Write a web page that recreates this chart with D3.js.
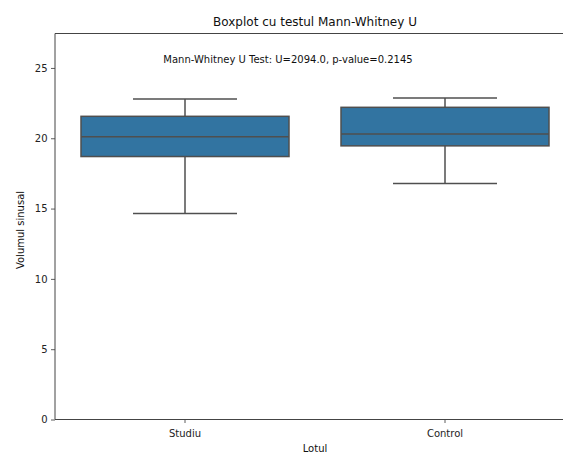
<!DOCTYPE html>
<html>
<head>
<meta charset="utf-8">
<script src="https://cdn.jsdelivr.net/npm/d3@7"></script>
<style>
  html, body { margin: 0; padding: 0; background: #fff; overflow: hidden; }
  svg { display: block; font-family: "DejaVu Sans", sans-serif; }
</style>
</head>
<body>
<svg id="chart" width="563" height="453"></svg>
<script>
// ---- data ----
const categories = ["Studiu", "Control"];
const whiskerLow = [14.65, 16.78];
const q1 = [18.70, 19.46];
const median = [20.10, 20.31];
const q3 = [21.56, 22.20];
const whiskerHigh = [22.80, 22.87];
const yTicks = [0, 5, 10, 15, 20, 25];
const titleText = "Boxplot cu testul Mann-Whitney U";
const testText = "Mann-Whitney U Test: U=2094.0, p-value=0.2145";
const xLabel = "Lotul";
const yLabel = "Volumul sinusal";

// ---- layout ----
const svg = d3.select("#chart");
const mLeft = 55, mRight = 575, mTop = 33.5, mBottom = 419.5;
const boxFill = "#3274a1";
const lineCol = "#4f4f4f";

const x = d3.scaleBand().domain(categories).range([mLeft, mRight]).paddingInner(0).paddingOuter(0);
const y = d3.scaleLinear().domain([0, 27.45]).range([mBottom, mTop]);
const bw = x.bandwidth() * 0.8;

const data = categories.map((c, i) => ({
  c, lo: whiskerLow[i], q1: q1[i], med: median[i], q3: q3[i], hi: whiskerHigh[i]
}));

const g = svg.append("g");
data.forEach(d => {
  const cx = x(d.c) + x.bandwidth() / 2;
  g.append("line").attr("x1", cx).attr("x2", cx).attr("y1", y(d.q3)).attr("y2", y(d.hi))
    .attr("stroke", lineCol).attr("stroke-width", 1.5);
  g.append("line").attr("x1", cx).attr("x2", cx).attr("y1", y(d.q1)).attr("y2", y(d.lo))
    .attr("stroke", lineCol).attr("stroke-width", 1.5);
  [d.lo, d.hi].forEach(v => {
    g.append("line").attr("x1", cx - bw / 4).attr("x2", cx + bw / 4)
      .attr("y1", y(v)).attr("y2", y(v))
      .attr("stroke", lineCol).attr("stroke-width", 1.5);
  });
  g.append("rect").attr("x", cx - bw / 2).attr("width", bw)
    .attr("y", y(d.q3)).attr("height", y(d.q1) - y(d.q3))
    .attr("fill", boxFill).attr("stroke", lineCol).attr("stroke-width", 1.5);
  g.append("line").attr("x1", cx - bw / 2).attr("x2", cx + bw / 2)
    .attr("y1", y(d.med)).attr("y2", y(d.med))
    .attr("stroke", lineCol).attr("stroke-width", 1.5);
});

// axes
const yAxis = d3.axisLeft(y).tickValues(yTicks).tickSize(4).tickPadding(3.5).tickFormat(d3.format("d"));
const ya = svg.append("g").attr("transform", `translate(${mLeft},0)`).call(yAxis);
const xAxis = d3.axisBottom(x).tickSize(3.5).tickPadding(6.5);
const xa = svg.append("g").attr("transform", `translate(0,${mBottom})`).call(xAxis);
[ya, xa].forEach(a => {
  a.select(".domain").remove();
  a.selectAll(".tick line").attr("stroke", "#333").attr("stroke-width", 0.8);
  a.selectAll(".tick text").attr("fill", "#222").style("font-size", "10px").style("font-family", "DejaVu Sans");
});

// frame (left, top, bottom; right side lies outside the picture)
svg.append("path")
  .attr("d", `M${mRight},${mTop}H${mLeft}V${mBottom}H${mRight}`)
  .attr("fill", "none").attr("stroke", "#444").attr("stroke-width", 1);

// texts
svg.append("text").attr("x", (mLeft + mRight) / 2).attr("y", 25.5).attr("text-anchor", "middle")
  .style("font-size", "12px").attr("fill", "#111").text(titleText);
svg.append("text").attr("x", 288).attr("y", 62.5).attr("text-anchor", "middle")
  .style("font-size", "10px").attr("fill", "#111").text(testText);
svg.append("text").attr("x", (mLeft + mRight) / 2).attr("y", 452).attr("text-anchor", "middle")
  .style("font-size", "10px").attr("fill", "#111").text(xLabel);
svg.append("text").attr("transform", "translate(23.5,230) rotate(-90)").attr("text-anchor", "middle")
  .style("font-size", "10px").attr("fill", "#111").text(yLabel);
</script>
</body>
</html>
